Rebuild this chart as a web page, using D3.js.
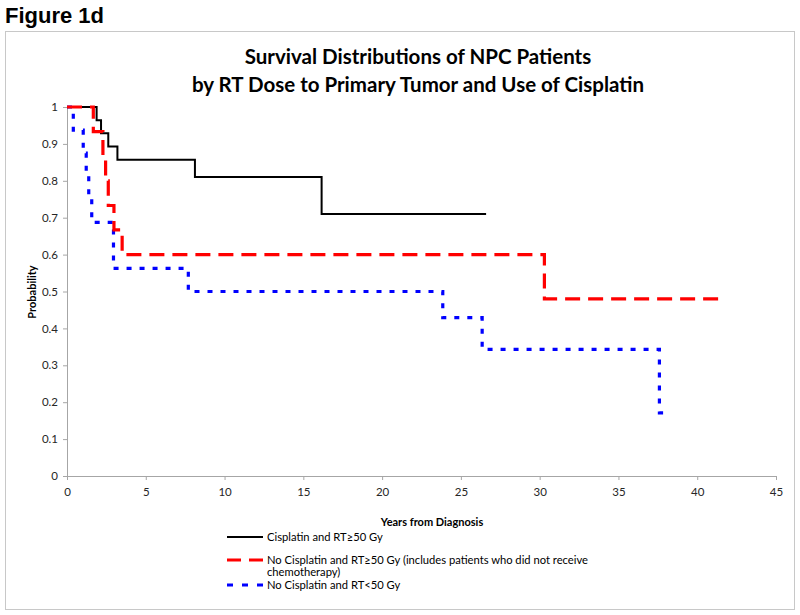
<!DOCTYPE html>
<html><head><meta charset="utf-8">
<script src="https://cdn.jsdelivr.net/npm/d3@7"></script>
<style>
html,body{margin:0;padding:0;background:#fff;}
svg{display:block;}
</style></head>
<body>
<svg id="chart" width="800" height="615"></svg>
<script>
// ---- data ----
const xTicks = [0,5,10,15,20,25,30,35,40,45];
const yTicks = [0,0.1,0.2,0.3,0.4,0.5,0.6,0.7,0.8,0.9,1];
const yTickLabels = ["0","0.1","0.2","0.3","0.4","0.5","0.6","0.7","0.8","0.9","1"];

const blackTimes = [0, 1.88, 2.16, 2.62, 3.2, 8.12, 16.16, 26.6];
const blackProb  = [1, 0.964, 0.929, 0.893, 0.857, 0.81, 0.71, 0.71];

const redTimes = [0, 1.67, 2.28, 2.45, 2.62, 2.98, 3.5, 30.3, 41.5];
const redProb  = [1, 0.933, 0.867, 0.8, 0.733, 0.667, 0.6, 0.48, 0.48];

const blueTimes = [0, 0.4, 1.03, 1.22, 1.38, 1.57, 2.95, 7.7, 23.85, 26.35, 37.6, 38.3];
const blueProb  = [1, 0.9375, 0.875, 0.8125, 0.75, 0.6875, 0.5625, 0.5, 0.429, 0.343, 0.171, 0.171];

const seriesNames = [
  ["Cisplatin and RT\u226550 Gy"],
  ["No Cisplatin and RT\u226550 Gy (includes patients who did not receive", "chemotherapy)"],
  ["No Cisplatin and RT<50 Gy"]
];
const titleLines = ["Survival Distributions of NPC Patients", "by RT Dose to Primary Tumor and Use of Cisplatin"];
const figLabel = "Figure 1d";
const xTitle = "Years from Diagnosis";
const yTitle = "Probability";

// ---- drawing ----
const svg = d3.select("#chart");
const FONT = "Lato, 'Open Sans', sans-serif";
const axisColor = "#a6a6a6";

svg.append("text").attr("x",5).attr("y",23)
  .attr("font-family","'Liberation Sans', Arial, sans-serif").attr("font-weight","bold")
  .attr("font-size",22).attr("fill","#000").text(figLabel);

svg.append("rect").attr("x",5.5).attr("y",31.5).attr("width",789).attr("height",578)
  .attr("fill","#fff").attr("stroke","#c8c8c8").attr("stroke-width",1);

const x = d3.scaleLinear().domain([0,45]).range([67,776]);
const y = d3.scaleLinear().domain([0,1]).range([476,107]);

// title
const tl = svg.append("g");
titleLines.forEach((t,i)=>{
  tl.append("text").attr("x",418).attr("y",64+i*28).attr("text-anchor","middle")
    .attr("font-family",FONT).attr("font-weight","bold").attr("font-size",20.5)
    .attr("fill","#000").text(t);
});

// axes
const xAxis = d3.axisBottom(x).tickValues(xTicks).tickSize(4).tickPadding(8).tickFormat(d3.format("d"));
const gx = svg.append("g").attr("transform",`translate(0,${y(0)})`).call(xAxis);
const yAxis = d3.axisLeft(y).tickValues(yTicks).tickSize(4).tickPadding(5).tickFormat((d,i)=>yTickLabels[i]);
const gy = svg.append("g").attr("transform",`translate(${x(0)},0)`).call(yAxis);
[gx,gy].forEach(g=>{
  g.select(".domain").attr("stroke",axisColor);
  g.selectAll(".tick line").attr("stroke",axisColor);
  g.selectAll(".tick text").attr("font-family",FONT).attr("font-size",11.5).attr("fill","#262626");
});
gx.select(".domain").attr("d",`M${x(0)},0.5H${x(45)}`);
gy.select(".domain").attr("d",`M0.5,${y(0)}V${y(1)}`);

svg.append("text").attr("x",432).attr("y",526).attr("text-anchor","middle")
  .attr("font-family",FONT).attr("font-weight","bold").attr("font-size",11).attr("fill","#000").text(xTitle);
svg.append("text").attr("transform",`translate(36,292) rotate(-90)`).attr("text-anchor","middle")
  .attr("font-family",FONT).attr("font-weight","bold").attr("font-size",11).attr("fill","#000").text(yTitle);

// curves
const line = d3.line().x(d=>x(d[0])).y(d=>y(d[1])).curve(d3.curveStepAfter);
const styles = [
  {color:"#000000", width:2, dash:null, legDash:null},
  {color:"#ff0000", width:3.2, dash:"15,8", legDash:"14,8"},
  {color:"#0000ff", width:3.2, dash:"5,8", legDash:"6,9"}
];
const series = [
  d3.zip(blackTimes, blackProb),
  d3.zip(redTimes, redProb),
  d3.zip(blueTimes, blueProb)
];
[0,2,1].forEach(i=>{
  svg.append("path").attr("d",line(series[i])).attr("fill","none")
    .attr("stroke",styles[i].color).attr("stroke-width",styles[i].width)
    .attr("stroke-dasharray",styles[i].dash);
});

// legend
const legY = [537, 560, 585];
seriesNames.forEach((lines,i)=>{
  svg.append("line").attr("x1",227).attr("x2",263).attr("y1",legY[i]).attr("y2",legY[i])
    .attr("stroke",styles[i].color).attr("stroke-width",styles[i].width)
    .attr("stroke-dasharray", styles[i].legDash);
  lines.forEach((t,j)=>{
    svg.append("text").attr("x",267).attr("y",legY[i]+4+j*12)
      .attr("font-family",FONT).attr("font-size",11.2).attr("fill","#000").text(t);
  });
});
</script>
</body></html>
